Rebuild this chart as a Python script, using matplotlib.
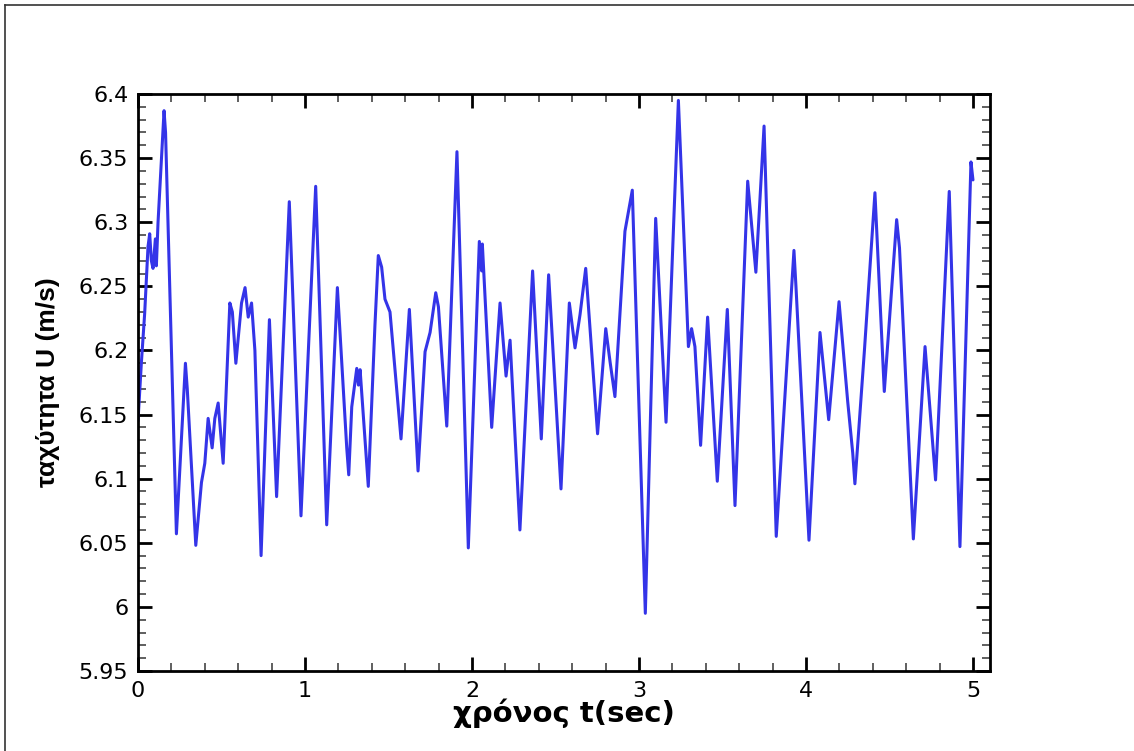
import matplotlib
matplotlib.use("Agg")
import matplotlib.pyplot as plt
from matplotlib.lines import Line2D
from matplotlib.ticker import MultipleLocator

# velocity trace, values (extrema + shoulders)
t_sec = [
    0.0, 0.02, 0.04, 0.06, 0.07, 0.08, 0.09, 0.104, 0.11, 0.12, 0.156, 0.165,
    0.23, 0.284, 0.295, 0.346, 0.38, 0.40, 0.42, 0.444, 0.46, 0.48, 0.51,
    0.55, 0.565, 0.586, 0.62, 0.641, 0.66, 0.68, 0.70, 0.737, 0.787, 0.830,
    0.906, 0.976, 1.064, 1.130, 1.194, 1.25, 1.262, 1.28, 1.31, 1.32, 1.33,
    1.379, 1.419, 1.439, 1.459, 1.479, 1.509, 1.539, 1.575, 1.625, 1.677,
    1.719, 1.749, 1.783, 1.799, 1.849, 1.91, 1.978, 2.044, 2.058, 2.062,
    2.118, 2.168, 2.204, 2.228, 2.287, 2.363, 2.415, 2.459, 2.533, 2.583,
    2.617, 2.647, 2.681, 2.752, 2.801, 2.827, 2.856, 2.916, 2.96, 3.038,
    3.100, 3.162, 3.236, 3.296, 3.315, 3.335, 3.369, 3.411, 3.469, 3.529,
    3.575, 3.651, 3.70, 3.749, 3.822, 3.928, 3.94, 4.018, 4.084, 4.136,
    4.198, 4.25, 4.28, 4.293, 4.35, 4.413, 4.469, 4.543, 4.56, 4.643, 4.713,
    4.776, 4.858, 4.922, 4.988, 5.0,
]
u_ms = [
    6.145, 6.19, 6.229, 6.281, 6.291, 6.27, 6.264, 6.287, 6.266, 6.30, 6.387, 6.37,
    6.057, 6.19, 6.17, 6.048, 6.097, 6.112, 6.147, 6.124, 6.147, 6.159, 6.112,
    6.237, 6.23, 6.19, 6.237, 6.249, 6.226, 6.237, 6.20, 6.04, 6.224, 6.086,
    6.316, 6.071, 6.328, 6.064, 6.249, 6.124, 6.103, 6.156, 6.186, 6.173, 6.185,
    6.094, 6.22, 6.274, 6.265, 6.24, 6.23, 6.185, 6.131, 6.232, 6.106,
    6.199, 6.214, 6.245, 6.234, 6.141, 6.355, 6.046, 6.285, 6.262, 6.283,
    6.14, 6.237, 6.18, 6.208, 6.06, 6.262, 6.131, 6.259, 6.092, 6.237,
    6.202, 6.228, 6.264, 6.135, 6.217, 6.191, 6.164, 6.293, 6.325, 5.995,
    6.303, 6.144, 6.395, 6.203, 6.217, 6.203, 6.126, 6.226, 6.098, 6.232,
    6.079, 6.332, 6.261, 6.375, 6.055, 6.278, 6.25, 6.052, 6.214, 6.146,
    6.238, 6.16, 6.12, 6.096, 6.20, 6.323, 6.168, 6.302, 6.28, 6.053, 6.203,
    6.099, 6.324, 6.047, 6.347, 6.333,
]

x_ticks = [0, 1, 2, 3, 4, 5]
y_ticks = [5.95, 6.0, 6.05, 6.1, 6.15, 6.2, 6.25, 6.3, 6.35, 6.4]
y_tick_labels = ["5.95", "6", "6.05", "6.1", "6.15", "6.2", "6.25", "6.3", "6.35", "6.4"]

plt.rcParams["font.family"] = ["DejaVu Sans"]

fig = plt.figure(figsize=(11.34, 7.51), dpi=100)
ax = fig.add_axes([138 / 1134, 1 - 671 / 751, 852 / 1134, 577 / 751])

ax.plot(t_sec, u_ms, color="#3434e8", linewidth=2.2,
        solid_joinstyle="round", solid_capstyle="round")

ax.set_xlim(0, 5.102)
ax.set_ylim(5.95, 6.4)
ax.set_xticks(x_ticks)
ax.set_yticks(y_ticks)
ax.set_yticklabels(y_tick_labels)
ax.xaxis.set_minor_locator(MultipleLocator(0.2))
ax.yaxis.set_minor_locator(MultipleLocator(0.01))

ax.tick_params(which="both", direction="in", top=True, right=True,
               labelsize=16, colors="black")
ax.tick_params(which="major", length=10, width=2, pad=7)
ax.tick_params(which="minor", length=6, width=1.2, color="#444444")
for sp in ax.spines.values():
    sp.set_linewidth(2)

ax.set_xlabel("χρόνος t(sec)", fontsize=21, fontweight="bold")
ax.xaxis.label.set_va("center")
ax.xaxis.set_label_coords(0.5, -0.074)
ax.set_ylabel("ταχύτητα U (m/s)", fontsize=19, fontweight="bold",
              family=["Liberation Sans", "DejaVu Sans"])
ax.yaxis.label.set_va("center")
ax.yaxis.set_label_coords(-0.106, 0.5)

# thin frame lines along the top and left edge of the image
fig.add_artist(Line2D([5 / 1134, 1], [1 - 5 / 751, 1 - 5 / 751],
                      color="#333333", linewidth=1.2))
fig.add_artist(Line2D([5 / 1134, 5 / 1134], [0, 1 - 5 / 751],
                      color="#333333", linewidth=1.2))

fig.savefig("out.png", dpi=100)
